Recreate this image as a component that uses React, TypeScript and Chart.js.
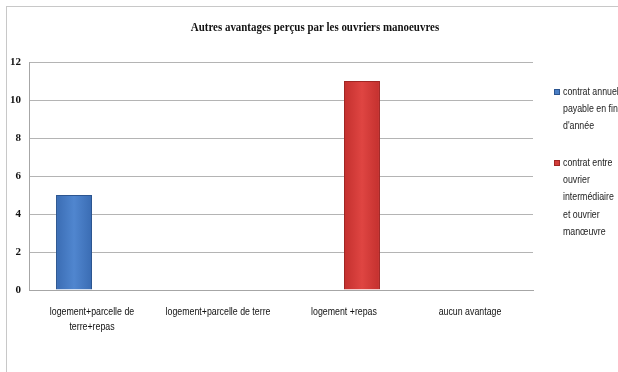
import React, { useEffect, useRef } from "react";
import { Chart, registerables } from "chart.js";

Chart.register(...registerables);

const TITLE = "Autres avantages perçus par les ouvriers manoeuvres";
const categories: string[][] = [
  ["logement+parcelle de", "terre+repas"],
  ["logement+parcelle de terre"],
  ["logement +repas"],
  ["aucun avantage"],
];
const seriesNames: string[][] = [
  ["contrat annuel", "payable en fin", "d'année"],
  ["contrat entre", "ouvrier", "intermédiaire", "et ouvrier", "manœuvre"],
];
const seriesA = [5, 0, 0, 0];
const seriesB = [0, 0, 11, 0];
const yTicks = [0, 2, 4, 6, 8, 10, 12];

const CAT_PCT = 0.571;
const SANS = "'Liberation Sans', Arial, sans-serif";
const SERIF = "'Liberation Serif', serif";

function barGradient(ctx: any, dsIndex: number, edge: string, mid: string) {
  const chart = ctx.chart;
  const x = chart.scales?.x;
  if (!x || ctx.dataIndex === undefined) return mid;
  const n = chart.data.labels.length;
  const w = (x.width / n) * CAT_PCT / 2;
  const c = x.getPixelForValue(ctx.dataIndex);
  const left = c + (dsIndex - 1) * w;
  if (!isFinite(left)) return mid;
  const g = chart.ctx.createLinearGradient(left, 0, left + w, 0);
  g.addColorStop(0, edge);
  g.addColorStop(0.5, mid);
  g.addColorStop(1, edge);
  return g;
}

function squeezedText(ctx: any, text: string, x: number, y: number, sx: number, align: string) {
  ctx.save();
  ctx.translate(x, y);
  ctx.scale(sx, 1);
  ctx.textAlign = align;
  ctx.fillText(text, 0, 0);
  ctx.restore();
}

const framePlugin = {
  id: "frame",
  beforeDraw(chart: any) {
    const ctx = chart.ctx;
    ctx.save();
    ctx.strokeStyle = "#c8c8c8";
    ctx.lineWidth = 1;
    ctx.strokeRect(6.5, 6.5, 700, 500);
    ctx.restore();
  },
};

const textPlugin = {
  id: "texts",
  afterDraw(chart: any) {
    const ctx = chart.ctx;
    ctx.save();
    ctx.textBaseline = "middle";
    // title
    ctx.fillStyle = "#111";
    ctx.font = `bold 13px ${SERIF}`;
    squeezedText(ctx, TITLE, 315, 28, 0.84, "center");
    // x category labels
    const xs = chart.scales.x;
    ctx.font = `11px ${SANS}`;
    ctx.fillStyle = "#111";
    (chart.data.labels as string[][]).forEach((lines, i) => {
      const cx = xs.getPixelForValue(i);
      lines.forEach((t, k) => squeezedText(ctx, t, cx, xs.top + 22 + k * 15, 0.8, "center"));
    });
    // legend
    const starts = [92, 163];
    const x0 = 554;
    chart.data.datasets.forEach((ds: any, i: number) => {
      const lines: string[] = ds.legendLines;
      const y = starts[i];
      ctx.fillStyle = ds.legendColor;
      ctx.fillRect(x0, y - 3, 6, 6);
      ctx.strokeStyle = ds.legendBorder;
      ctx.lineWidth = 1;
      ctx.strokeRect(x0 + 0.5, y - 2.5, 5, 5);
      ctx.fillStyle = "#222";
      ctx.font = `11px ${SANS}`;
      lines.forEach((t, k) => squeezedText(ctx, t, x0 + 9, y + k * 17.2, 0.8, "left"));
    });
    ctx.restore();
  },
};

export default function App() {
  const ref = useRef<HTMLCanvasElement | null>(null);

  useEffect(() => {
    document.body.style.margin = "0";
    if (!ref.current) return;
    const chart = new Chart(ref.current, {
      type: "bar",
      data: {
        labels: categories,
        datasets: [
          {
            label: seriesNames[0].join(" "),
            data: seriesA,
            backgroundColor: (c: any) => barGradient(c, 0, "#3a6cb3", "#5086cf"),
            borderColor: "#2c5590",
            borderWidth: 1,
            categoryPercentage: CAT_PCT,
            barPercentage: 1,
            legendLines: seriesNames[0],
            legendColor: "#4a7ec4",
            legendBorder: "#2c5590",
          } as any,
          {
            label: seriesNames[1].join(" "),
            data: seriesB,
            backgroundColor: (c: any) => barGradient(c, 1, "#c3302e", "#df4542"),
            borderColor: "#a02624",
            borderWidth: 1,
            categoryPercentage: CAT_PCT,
            barPercentage: 1,
            legendLines: seriesNames[1],
            legendColor: "#d23d3a",
            legendBorder: "#a02624",
          } as any,
        ],
      },
      options: {
        animation: false,
        responsive: false,
        maintainAspectRatio: false,
        layout: { padding: { left: 8, right: 85, top: 62, bottom: 0 } },
        plugins: {
          legend: { display: false },
          tooltip: { enabled: false },
          title: { display: false },
        },
        scales: {
          x: {
            grid: { display: false, drawTicks: false },
            border: { display: true, color: "#a6a6a6" },
            ticks: { display: false },
            afterFit: (s: any) => {
              s.height = 82;
            },
          },
          y: {
            min: 0,
            max: 12,
            afterBuildTicks: (s: any) => {
              s.ticks = yTicks.map((v) => ({ value: v }));
            },
            grid: { color: "#b4b4b4", drawTicks: false },
            border: { display: true, color: "#a6a6a6" },
            ticks: {
              color: "#111",
              font: { family: SERIF, size: 11, weight: "bold" },
              padding: 8,
            },
            afterFit: (s: any) => {
              s.width = 21;
            },
          },
        },
      } as any,
      plugins: [framePlugin, textPlugin],
    });
    return () => chart.destroy();
  }, []);

  return (
    <div style={{ width: 618, height: 372, background: "#fff" }}>
      <canvas ref={ref} width={618} height={372} />
    </div>
  );
}
